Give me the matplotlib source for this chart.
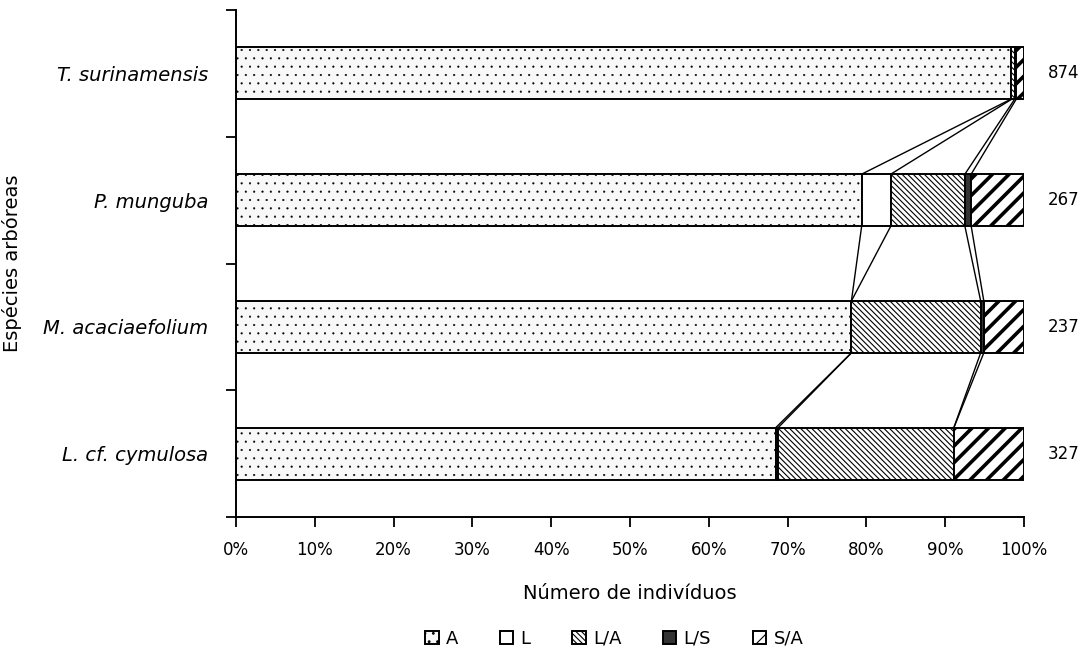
import matplotlib.pyplot as plt
import numpy as np

# Espécies e proporções (%) por categoria
especies = ["T. surinamensis", "P. munguba", "M. acaciaefolium", "L. cf. cymulosa"]
n_individuos = [874, 267, 237, 327]
categorias = ["A", "L", "L/A", "L/S", "S/A"]

A = [98.3, 79.4, 78.1, 68.5]
L = [0.1, 3.7, 0.0, 0.3]
LA = [0.4, 9.4, 16.4, 22.3]
LS = [0.2, 0.8, 0.4, 0.0]
SA = [1.0, 6.7, 5.1, 8.9]

valores = [A, L, LA, LS, SA]
# cor de fundo, hachura, espessura e cor da hachura
estilos = [
    dict(color="#f8f8f8", hatch="..", hlw=0.3, hc="#777777"),
    dict(color="white", hatch="", hlw=1.0, hc="black"),
    dict(color="white", hatch="\\\\\\\\\\\\", hlw=0.8, hc="#444444"),
    dict(color="#333333", hatch="", hlw=1.0, hc="black"),
    dict(color="white", hatch="//", hlw=2.6, hc="black"),
]

plt.rcParams["font.family"] = ["DejaVu Sans"]

fig = plt.figure(figsize=(10.86, 6.5), dpi=100)
ax = fig.add_axes([0.2173, 0.2046, 0.7256, 0.78])

y = np.arange(len(especies))[::-1]
altura = 0.41
esquerda = np.zeros(len(especies))
limites = []
for vals, cat, st in zip(valores, categorias, estilos):
    plt.rcParams["hatch.linewidth"] = st["hlw"]
    plt.rcParams["hatch.color"] = st["hc"]
    ax.barh(y, vals, left=esquerda, height=altura, color=st["color"],
            hatch=st["hatch"], edgecolor="black", linewidth=1.4, label=cat)
    esquerda = esquerda + np.array(vals)
    limites.append(esquerda.copy())

# linhas de série entre barras
for lim in limites[:-1]:
    for i in range(len(especies) - 1):
        ax.plot([lim[i], lim[i + 1]], [y[i] - altura / 2, y[i + 1] + altura / 2],
                color="black", linewidth=1.0)

for yi, n in zip(y, n_individuos):
    ax.text(103, yi, str(n), va="center", ha="left", fontsize=12)

ax.set_xlim(0, 100)
ax.set_ylim(-0.5, 3.5)
ax.set_xticks(np.arange(0, 101, 10))
ax.set_xticklabels([f"{v}%" for v in range(0, 101, 10)], fontsize=12)
ax.set_yticks(y)
ax.set_yticklabels(especies, fontsize=14, style="italic")
ax.tick_params(axis="y", length=0, pad=20)
ax.set_yticks(np.arange(-0.5, 3.6, 1), minor=True)
ax.tick_params(axis="y", which="minor", length=7, width=1.3)
ax.tick_params(axis="x", length=7, width=1.3, pad=10)
for s in ["top", "right"]:
    ax.spines[s].set_visible(False)
ax.spines["left"].set_linewidth(1.4)
ax.spines["bottom"].set_linewidth(1.4)

ax.set_xlabel("Número de indivíduos", fontsize=14, labelpad=18)
ax.set_ylabel("Espécies arbóreas", fontsize=14)
ax.yaxis.set_label_coords(-0.272, 0.5)

plt.rcParams["hatch.linewidth"] = 0.8
ax.legend(loc="upper center", bbox_to_anchor=(0.48, -0.19), ncol=5, frameon=False,
          fontsize=13, handlelength=0.75, handleheight=0.75, columnspacing=2.3,
          handletextpad=0.4)

fig.savefig("out.png", dpi=100)
